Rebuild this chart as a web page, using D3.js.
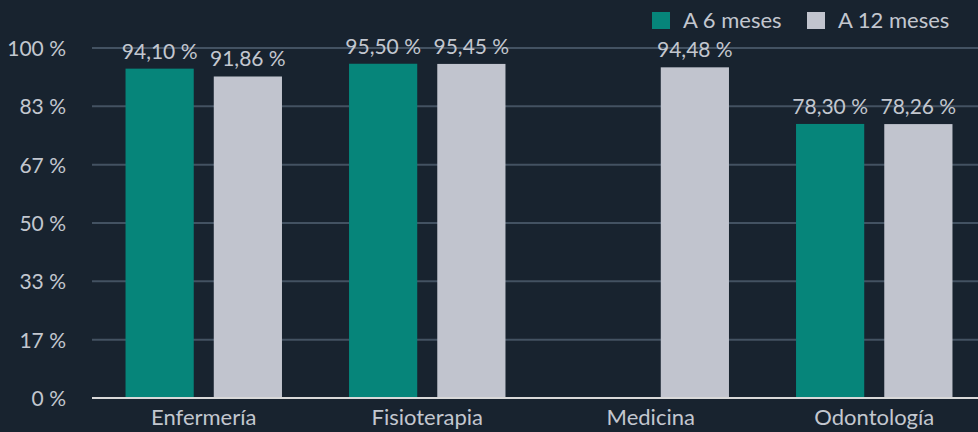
<!DOCTYPE html>
<html>
<head>
<meta charset="utf-8">
<script src="https://cdn.jsdelivr.net/npm/d3@7"></script>
<style>
  html, body { margin: 0; padding: 0; background: #18232f; }
  svg { display: block; }
  text { font-family: Lato, "Open Sans", sans-serif; fill: #c3c7cf; }
</style>
</head>
<body>
<svg></svg>
<script>
  const categories = ["Enfermería", "Fisioterapia", "Medicina", "Odontología"];
  const seriesNames = ["A 6 meses", "A 12 meses"];
  const sixMonths = [94.10, 95.50, null, 78.30];
  const twelveMonths = [91.86, 95.45, 94.48, 78.26];
  const yTicks = [0, 100 / 6, 200 / 6, 50, 400 / 6, 500 / 6, 100];
  const colors = ["#06857a", "#c1c4ce"];

  const width = 978, height = 432;
  const svg = d3.select("svg").attr("width", width).attr("height", height);

  const margin = { left: 92, top: 48, bottom: 398 };

  const x0 = d3.scaleBand().domain(categories).range([margin.left, 986])
    .paddingInner(0.3).paddingOuter(0.15);
  const x1 = d3.scaleBand().domain(seriesNames).range([0, x0.bandwidth()]).paddingInner(0.227);
  const y = d3.scaleLinear().domain([0, 100]).range([margin.bottom, margin.top]);

  // grid lines
  svg.append("g").selectAll("line").data(yTicks.slice(1)).enter().append("line")
    .attr("x1", margin.left).attr("x2", width)
    .attr("y1", d => y(d)).attr("y2", d => y(d))
    .attr("stroke", "#435262").attr("stroke-width", 2);

  // y tick labels
  svg.append("g").selectAll("text").data(yTicks).enter().append("text")
    .attr("x", 66).attr("y", d => y(d) + 8)
    .attr("text-anchor", "end").attr("font-size", 21)
    .text(d => d3.format(".0f")(d) + " %");

  const rows = categories.map((c, i) => ({
    cat: c,
    values: [
      { key: seriesNames[0], value: sixMonths[i] },
      { key: seriesNames[1], value: twelveMonths[i] }
    ].filter(v => v.value !== null)
  }));

  const group = svg.append("g").selectAll("g").data(rows).enter().append("g")
    .attr("transform", d => `translate(${x0(d.cat)},0)`);

  group.selectAll("rect").data(d => d.values).enter().append("rect")
    .attr("x", d => x1(d.key))
    .attr("width", x1.bandwidth())
    .attr("y", d => y(d.value))
    .attr("height", d => y(0) - y(d.value))
    .attr("fill", d => colors[seriesNames.indexOf(d.key)]);

  group.selectAll("text").data(d => d.values).enter().append("text")
    .attr("x", d => x1(d.key) + x1.bandwidth() / 2)
    .attr("y", d => y(d.value) - 10)
    .attr("text-anchor", "middle").attr("font-size", 21)
    .text(d => d3.format(".2f")(d.value).replace(".", ",") + " %");

  // baseline
  svg.append("line")
    .attr("x1", margin.left).attr("x2", width)
    .attr("y1", y(0)).attr("y2", y(0))
    .attr("stroke", "#d9d9d9").attr("stroke-width", 2);

  // category labels
  svg.append("g").selectAll("text").data(categories).enter().append("text")
    .attr("x", d => x0(d) + x0.bandwidth() / 2)
    .attr("y", 425)
    .attr("text-anchor", "middle").attr("font-size", 22)
    .text(d => d);

  // legend
  const legendX = [652, 807];
  const legend = svg.append("g").selectAll("g").data(seriesNames).enter().append("g")
    .attr("transform", (_, i) => `translate(${legendX[i]},12)`);
  legend.append("rect").attr("width", 18).attr("height", 17)
    .attr("fill", (_, i) => colors[i]);
  legend.append("text").attr("x", 31).attr("y", 16).attr("font-size", 22)
    .text(d => d);
</script>
</body>
</html>
